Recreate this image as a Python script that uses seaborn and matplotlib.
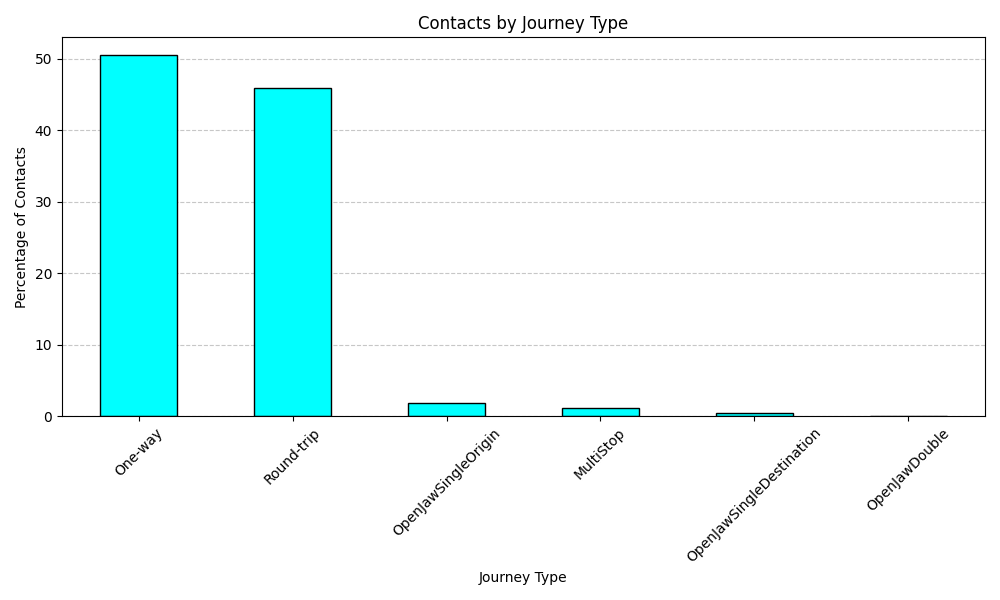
import matplotlib
matplotlib.use("Agg")
import matplotlib.pyplot as plt
import seaborn as sns
import pandas as pd

journey_types = ["One-way", "Round-trip", "OpenJawSingleOrigin", "MultiStop",
                 "OpenJawSingleDestination", "OpenJawDouble"]
contact_pct = [50.5, 46.0, 1.8, 1.1, 0.5, 0.08]

df = pd.DataFrame({"journey": journey_types, "pct": contact_pct})

fig, ax = plt.subplots(figsize=(10, 6), dpi=100)
sns.barplot(data=df, x="journey", y="pct", color="cyan", saturation=1,
            edgecolor="black", linewidth=1, width=0.5, ax=ax)
ax.set_axisbelow(True)
ax.grid(axis="y", linestyle="--", alpha=0.7)
ax.set_title("Contacts by Journey Type")
ax.set_xlabel("Journey Type")
ax.set_ylabel("Percentage of Contacts")
ax.set_xlim(-0.5, len(journey_types) - 0.5)
plt.xticks(rotation=45)
plt.tight_layout()
plt.savefig("out.png", dpi=100)
plt.close(fig)
